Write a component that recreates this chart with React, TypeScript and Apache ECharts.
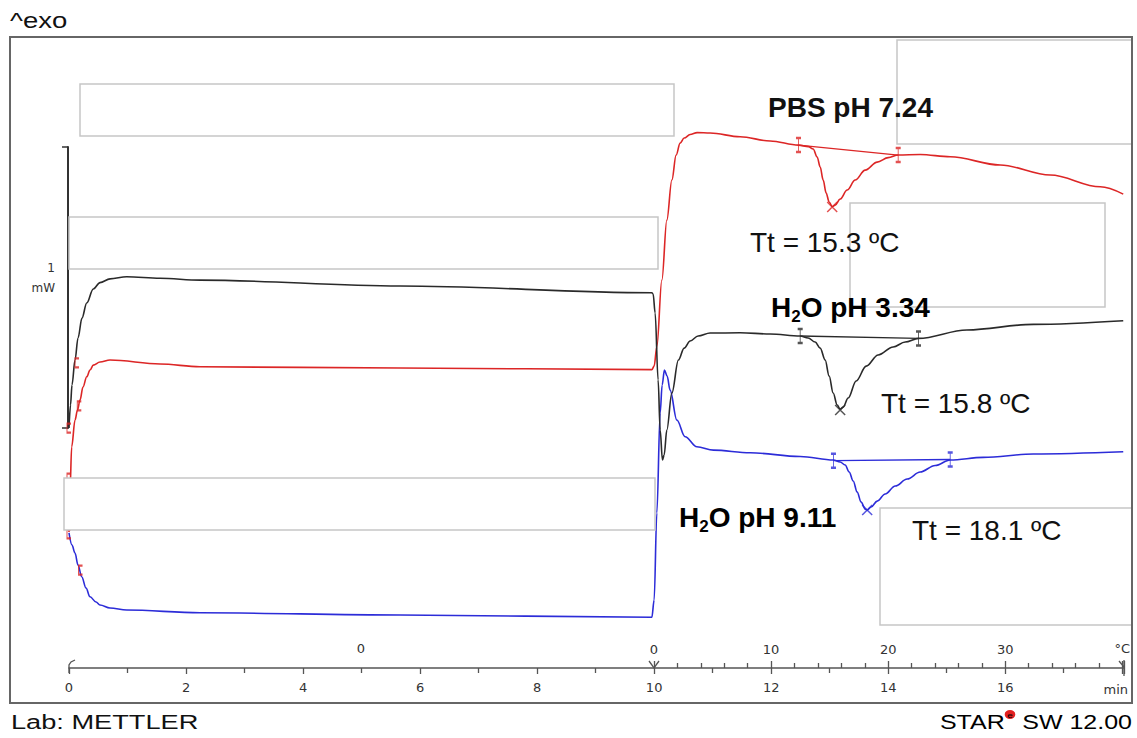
import React, { useEffect, useRef } from 'react';
import * as echarts from 'echarts';

// ---- data (time in min, heat flow in mW, curves offset as in the plot) ----
const blackT = [0, 0.026, 0.051, 0.103, 0.154, 0.222, 0.303, 0.415, 0.53, 0.701, 0.986, 1.556, 2.239, 5.658, 9.961, 9.983, 10.017, 10.068, 10.103, 10.142, 10.171, 10.217, 10.303, 10.415, 10.513, 10.615, 10.752, 10.957, 11.47, 11.983, 12.496, 12.632, 12.752, 12.838, 12.923, 12.991, 13.06, 13.128, 13.179, 13.231, 13.316, 13.453, 13.624, 13.829, 14.085, 14.291, 14.518, 15.345, 16.479, 18.017];
const blackMw = [0, 0.164, 0.306, 0.484, 0.641, 0.783, 0.89, 0.99, 1.035, 1.062, 1.077, 1.066, 1.053, 1.011, 0.963, 0.954, 0.819, 0.342, -0.014, -0.228, -0.192, -0.014, 0.249, 0.484, 0.569, 0.619, 0.655, 0.676, 0.678, 0.669, 0.655, 0.641, 0.612, 0.569, 0.484, 0.37, 0.249, 0.164, 0.135, 0.149, 0.214, 0.335, 0.441, 0.52, 0.577, 0.612, 0.638, 0.698, 0.738, 0.764];

const redT = [0, 0.017, 0.046, 0.103, 0.145, 0.188, 0.239, 0.303, 0.359, 0.415, 0.53, 0.701, 1.556, 2.239, 5.658, 9.961, 10.0, 10.046, 10.132, 10.217, 10.303, 10.376, 10.444, 10.513, 10.615, 10.735, 10.957, 11.47, 11.983, 12.467, 12.638, 12.718, 12.786, 12.838, 12.889, 12.94, 12.991, 13.043, 13.094, 13.179, 13.299, 13.436, 13.607, 13.812, 14.0, 14.171, 14.547, 15.06, 15.915, 16.769, 17.624, 18.017];
const redMw = [-0.74, -0.441, -0.133, 0.057, 0.128, 0.199, 0.292, 0.365, 0.413, 0.448, 0.47, 0.484, 0.456, 0.436, 0.427, 0.416, 0.441, 0.579, 1.053, 1.48, 1.765, 1.943, 2.028, 2.064, 2.089, 2.103, 2.1, 2.073, 2.043, 2.014, 2.003, 1.986, 1.929, 1.858, 1.765, 1.673, 1.609, 1.577, 1.587, 1.63, 1.694, 1.765, 1.836, 1.893, 1.925, 1.943, 1.947, 1.931, 1.872, 1.801, 1.717, 1.665];

const blueT = [0, 0.051, 0.103, 0.154, 0.217, 0.291, 0.359, 0.462, 0.53, 0.701, 0.986, 2.239, 5.658, 9.961, 10.0, 10.046, 10.103, 10.137, 10.176, 10.222, 10.273, 10.388, 10.53, 10.73, 11.014, 11.641, 12.496, 13.065, 13.179, 13.265, 13.333, 13.402, 13.47, 13.538, 13.607, 13.641, 13.709, 13.812, 13.949, 14.12, 14.325, 14.547, 14.803, 15.06, 15.624, 16.479, 18.017];
const blueMw = [-0.747, -0.833, -0.89, -0.975, -1.058, -1.139, -1.201, -1.238, -1.26, -1.281, -1.295, -1.315, -1.331, -1.347, -1.224, -0.605, 0.107, 0.306, 0.413, 0.37, 0.27, 0.057, -0.062, -0.133, -0.157, -0.176, -0.203, -0.228, -0.242, -0.263, -0.313, -0.377, -0.456, -0.527, -0.577, -0.584, -0.562, -0.52, -0.47, -0.413, -0.363, -0.313, -0.267, -0.228, -0.209, -0.185, -0.169];

// integration limits (baseline end points)
const blackLimitT = [12.496, 14.518];
const blackLimitMw = [0.655, 0.638];
const redLimitT = [12.467, 14.171];
const redLimitMw = [2.014, 1.943];
const blueLimitT = [13.065, 15.06];
const blueLimitMw = [-0.232, -0.224];

// peak minima (x marks)
const peakT = [13.179, 13.043, 13.641];
const peakMw = [0.128, 1.573, -0.584];

// small red start markers
const startT = [0.137, 0.176, 0.197, 0, 0, 0];
const startMw = [0.463, 0.157, -1.011, 0, -0.356, -0.754];

// labels
const sampleNames = ['PBS pH 7.24', 'H₂O pH 3.34', 'H₂O pH 9.11'];
const ttLabels = ['Tt = 15.3 ºC', 'Tt = 15.8 ºC', 'Tt = 18.1 ºC'];

const BLACK = '#2a2a2a';
const RED = '#dc2626';
const BLUE = '#2c2cd8';

const pair = (t: number[], v: number[]) => t.map((x, i) => [x, v[i]]);

const IBEAM = 'path://M0,0L6,0M3,0L3,16M0,16L6,16';
const CROSS = 'path://M0,0L10,10M10,0L0,10';
const BRACKET = 'path://M5,0L0,0L0,10L5,10';

const curve = (t: number[], v: number[], color: string) => ({
  type: 'line',
  data: pair(t, v),
  xAxisIndex: 0,
  yAxisIndex: 0,
  showSymbol: false,
  smooth: 0.35,
  smoothMonotone: 'x',
  lineStyle: { color, width: 1.6 },
  silent: true,
  z: 3,
});

const base = (t: number[], v: number[], color: string) => ({
  type: 'line',
  data: pair(t, v),
  xAxisIndex: 0,
  yAxisIndex: 0,
  showSymbol: false,
  lineStyle: { color, width: 1.3 },
  silent: true,
  z: 3,
});

const marks = (t: number[], v: number[], color: string, symbol: string, size: number[]) => ({
  type: 'scatter',
  data: pair(t, v),
  xAxisIndex: 0,
  yAxisIndex: 0,
  symbol,
  symbolSize: size,
  itemStyle: { color: 'none', borderColor: color, borderWidth: 1.5 },
  silent: true,
  z: 4,
});

const txt = (x: number, y: number, text: string, extra: any = {}) => ({
  type: 'text',
  x,
  y,
  z: 110,
  silent: true,
  style: {
    text,
    fill: '#111',
    fontFamily: 'Liberation Sans',
    fontSize: 28,
    verticalAlign: 'middle',
    align: 'left',
    ...extra,
  },
});

const subName = (x: number, y: number, label: string) => {
  const rest = label.replace('H₂', '');
  return {
    type: 'text',
    x,
    y,
    z: 110,
    silent: true,
    style: {
      text: `{a|H}{s|2}{a|${rest}}`,
      verticalAlign: 'middle',
      align: 'left',
      rich: {
        a: { fontFamily: 'Liberation Sans', fontSize: 28, fontWeight: 'bold', color: '#111', lineHeight: 36 },
        s: { fontFamily: 'Liberation Sans', fontSize: 17, fontWeight: 'bold', color: '#111', lineHeight: 17, verticalAlign: 'bottom' },
      },
    },
  };
};

const box = (x: number, y: number, w: number, h: number) => ({
  type: 'rect',
  z: 100,
  silent: true,
  shape: { x, y, width: w, height: h },
  style: { fill: '#fff', stroke: '#c6c6c6', lineWidth: 1.5 },
});

const axisCol = '#555';

const option: any = {
  animation: false,
  backgroundColor: '#fff',
  grid: [
    { left: 69, right: 13, top: 40, bottom: 70 },
    { left: 68, top: 147, height: 281, width: 10 },
    { left: 654, right: 13, top: 40, bottom: 70 },
  ],
  xAxis: [
    {
      type: 'value', gridIndex: 0, min: 0, max: 18.03, interval: 2,
      axisLine: { show: true, onZero: false, lineStyle: { color: axisCol, width: 1.6 } },
      axisTick: { show: true, length: 6, lineStyle: { color: axisCol, width: 1.3 } },
      minorTick: { show: true, splitNumber: 2, length: 5, lineStyle: { color: axisCol, width: 1.3 } },
      splitLine: { show: false },
      minorSplitLine: { show: false },
      axisLabel: {
        fontFamily: 'DejaVu Sans', fontSize: 13, color: '#333', margin: 13,
        formatter: (v: number) => (v > 17 ? '' : String(v)),
      },
    },
    { type: 'value', gridIndex: 1, show: false, min: 0, max: 1 },
    {
      type: 'value', gridIndex: 2, min: 0, max: 40.14, interval: 10,
      axisLine: { show: false, onZero: false },
      axisTick: { show: true, inside: true, length: 7, lineStyle: { color: axisCol, width: 1.3 } },
      minorTick: { show: true, splitNumber: 5, length: 5, lineStyle: { color: axisCol, width: 1.3 } },
      splitLine: { show: false },
      axisLabel: {
        inside: true, fontFamily: 'DejaVu Sans', fontSize: 13, color: '#333', margin: 12,
        formatter: (v: number) => (v > 35 ? '' : String(v)),
      },
    },
  ],
  yAxis: [
    { type: 'value', gridIndex: 0, min: -1.708, max: 2.762, show: false },
    {
      type: 'value', gridIndex: 1, min: 0, max: 2, interval: 2,
      axisLine: { show: true, lineStyle: { color: '#333', width: 2 } },
      axisTick: { show: true, length: 6, lineStyle: { color: '#333', width: 1.5 } },
      axisLabel: { show: false },
      splitLine: { show: false },
      name: '1\nmW\n ', nameLocation: 'middle', nameGap: 13, nameRotate: 0,
      nameTextStyle: { fontFamily: 'DejaVu Sans', fontSize: 12, color: '#333', align: 'right', verticalAlign: 'middle', lineHeight: 20 },
    },
    { type: 'value', gridIndex: 2, show: false, min: 0, max: 1 },
  ],
  series: [
    curve(blueT, blueMw, BLUE),
    curve(redT, redMw, RED),
    curve(blackT, blackMw, BLACK),
    base(blackLimitT, blackLimitMw, BLACK),
    base(redLimitT, redLimitMw, RED),
    base(blueLimitT, blueLimitMw, BLUE),
    marks(blackLimitT, blackLimitMw, BLACK, IBEAM, [5, 14]),
    marks(redLimitT, redLimitMw, RED, IBEAM, [5, 14]),
    marks(blueLimitT, blueLimitMw, BLUE, IBEAM, [5, 14]),
    marks([peakT[0]], [peakMw[0]], BLACK, CROSS, [10, 10]),
    marks([peakT[1]], [peakMw[1]], RED, CROSS, [10, 10]),
    marks([peakT[2]], [peakMw[2]], BLUE, CROSS, [10, 10]),
    marks(startT, startMw, RED, BRACKET, [4, 9]),
  ],
  graphic: [
    // blanked annotation boxes
    box(80, 84, 594, 52),
    box(69, 217, 589, 52),
    box(64, 478, 591, 52),
    box(897, 40, 235, 104),
    box(850, 203, 255, 104),
    box(880, 508, 252, 117),
    // outer frame
    {
      type: 'rect', z: 120, silent: true,
      shape: { x: 10, y: 37, width: 1122, height: 666 },
      style: { fill: 'none', stroke: '#666', lineWidth: 2 },
    },
    // axis decorations
    { type: 'polyline', z: 50, silent: true, shape: { points: [[69, 673], [69, 665], [71, 662], [75, 660]] }, style: { stroke: axisCol, lineWidth: 1.3, fill: 'none' } },
    { type: 'polyline', z: 50, silent: true, shape: { points: [[649, 661], [654, 668], [659, 661]] }, style: { stroke: axisCol, lineWidth: 1.3, fill: 'none' } },
    { type: 'polyline', z: 50, silent: true, shape: { points: [[1119, 661], [1124, 667]] }, style: { stroke: axisCol, lineWidth: 1.3, fill: 'none' } },
    { type: 'line', z: 50, silent: true, shape: { x1: 1124, y1: 660, x2: 1124, y2: 676 }, style: { stroke: axisCol, lineWidth: 1.3 } },
    // axis texts
    txt(361, 648, '0', { fontFamily: 'DejaVu Sans', fontSize: 13, fill: '#333', align: 'center' }),
    txt(1130, 648, '°C', { fontFamily: 'DejaVu Sans', fontSize: 13, fill: '#333', align: 'right' }),
    txt(1128, 689, 'min', { fontFamily: 'DejaVu Sans', fontSize: 13, fill: '#333', align: 'right' }),
    // header / footer
    { ...txt(10, 20, '^exo', { fontSize: 22 }), scaleX: 1.25 },
    { ...txt(11, 722, 'Lab: METTLER', { fontSize: 20 }), scaleX: 1.36 },
    {
      type: 'text', x: 1132, y: 722, z: 110, silent: true, scaleX: 1.25,
      style: {
        text: '{k|S}{r|TA}{k|R}{e|e}{k| SW 12.00}',
        align: 'right',
        verticalAlign: 'middle',
        rich: {
          k: { fontFamily: 'Liberation Sans', fontSize: 20, color: '#111', lineHeight: 24 },
          r: { fontFamily: 'Liberation Sans', fontSize: 20, color: '#e32020', lineHeight: 24 },
          e: { fontFamily: 'Liberation Sans', fontSize: 8, color: '#fff', backgroundColor: '#e32020', borderRadius: 5, padding: [1, 2, 0, 2], verticalAlign: 'top', lineHeight: 10 },
        },
      },
    },
    // annotations
    txt(768, 107, sampleNames[0], { fontWeight: 'bold' }),
    subName(771, 307, sampleNames[1]),
    subName(679, 517, sampleNames[2]),
    txt(750, 242, ttLabels[0]),
    txt(881, 403, ttLabels[1]),
    txt(912, 530, ttLabels[2]),
  ],
};

export default function App() {
  const ref = useRef<HTMLDivElement>(null);
  useEffect(() => {
    if (!ref.current) return;
    const chart = echarts.init(ref.current, null, { renderer: 'svg' });
    chart.setOption(option);
    return () => chart.dispose();
  }, []);
  return (
    <div
      ref={ref}
      style={{ position: 'fixed', left: 0, top: 0, width: 1137, height: 738, background: '#fff' }}
    />
  );
}
